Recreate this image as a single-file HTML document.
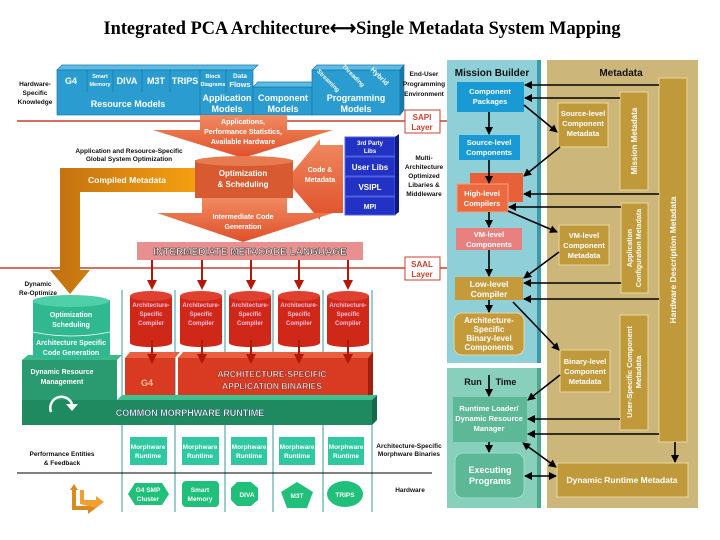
<!DOCTYPE html>
<html><head><meta charset="utf-8"><style>
body{margin:0;background:#fff}
svg{display:block}
text{font-family:"Liberation Sans",sans-serif;font-weight:bold}
</style></head><body>
<svg width="720" height="540" viewBox="0 0 720 540" xmlns="http://www.w3.org/2000/svg">
<defs>
<marker id="ah" markerWidth="8" markerHeight="8" refX="7" refY="4" orient="auto" markerUnits="userSpaceOnUse"><path d="M0,0 L8,4 L0,8z" fill="#000"/></marker>
<marker id="as" markerWidth="8" markerHeight="8" refX="1" refY="4" orient="auto" markerUnits="userSpaceOnUse"><path d="M8,0 L0,4 L8,8z" fill="#000"/></marker>
<marker id="rh" markerWidth="10" markerHeight="10" refX="8" refY="5" orient="auto" markerUnits="userSpaceOnUse"><path d="M0,0 L10,5 L0,10z" fill="#b01808"/></marker>
<linearGradient id="og" x1="0" x2="0" y1="0" y2="1"><stop offset="0" stop-color="#f08a60"/><stop offset="1" stop-color="#e0502a"/></linearGradient>
<linearGradient id="yg" x1="0" x2="1"><stop offset="0" stop-color="#c07010"/><stop offset="1" stop-color="#f5a010"/></linearGradient>
</defs>
<text x="362" y="34" text-anchor="middle" font-family="Liberation Serif" style="font-family:'Liberation Serif',serif" font-size="19" textLength="517" lengthAdjust="spacingAndGlyphs">Integrated PCA Architecture⟷Single Metadata System Mapping</text>

<!-- right panels -->
<rect x="447" y="60" width="90" height="303" fill="#8ecfd8"/>
<rect x="537" y="60" width="4" height="303" fill="#3d9aa8"/>
<rect x="447" y="368" width="90" height="140" fill="#88d0bc"/>
<rect x="537" y="368" width="4" height="140" fill="#4fa890"/>
<rect x="547" y="60" width="151" height="448" fill="#cdb67a"/>
<text x="492" y="76" text-anchor="middle" font-size="10" fill="#111">Mission Builder</text>
<text x="621" y="76" text-anchor="middle" font-size="10" fill="#111">Metadata</text>

<g font-size="7.5" fill="#fff" text-anchor="middle">
<rect x="457" y="82" width="67" height="30" fill="#1a9ad4"/><text x="490" y="94">Component</text><text x="490" y="104">Packages</text>
<rect x="459" y="135" width="61" height="25" fill="#1a9ad4"/><text x="489" y="145">Source-level</text><text x="489" y="155">Components</text>
<rect x="470" y="173" width="53" height="29" fill="#e8603a"/>
<rect x="457" y="184" width="51" height="28" fill="#ec6a40" stroke="#f4a080" stroke-width="1"/><text x="482" y="196">High-level</text><text x="482" y="206">Compilers</text>
<rect x="456" y="228" width="66" height="22" fill="#e88080"/><text x="489" y="237">VM-level</text><text x="489" y="247">Components</text>
<rect x="455" y="277" width="68" height="23" fill="#c49a3a"/><text x="489" y="287" font-size="8.5">Low-level</text><text x="489" y="297" font-size="8.5">Compiler</text>
<rect x="454" y="313" width="70" height="42" rx="8" fill="#c49a3a" stroke="#e6d6a0"/><text x="489" y="323" font-size="8">Architecture-</text><text x="489" y="332" font-size="8">Specific</text><text x="489" y="341" font-size="8">Binary-level</text><text x="489" y="350" font-size="8">Components</text>
<text x="473" y="385" fill="#111" font-size="9">Run</text><text x="506" y="385" fill="#111" font-size="9">Time</text>
<rect x="453" y="397" width="74" height="45" fill="#5cb896"/><text x="489" y="411">Runtime Loader/</text><text x="489" y="421">Dynamic Resource</text><text x="489" y="431">Manager</text>
<rect x="455" y="453" width="69" height="45" rx="8" fill="#5cb896" stroke="#a0dcc4"/><text x="490" y="473" font-size="9">Executing</text><text x="490" y="484" font-size="9">Programs</text>

<g fill="#c09a3a" stroke="#e8d8a0">
<rect x="558" y="103" width="50" height="44"/><rect x="620" y="92" width="28" height="98"/><rect x="659" y="78" width="28" height="364"/>
<rect x="621" y="203" width="27" height="90"/><rect x="559" y="225" width="50" height="40"/><rect x="620" y="315" width="28" height="115"/>
<rect x="560" y="350" width="50" height="42"/><rect x="557" y="463" width="131" height="34"/></g>
<text x="583" y="116">Source-level</text><text x="583" y="126">Component</text><text x="583" y="136">Metadata</text>
<text x="584" y="238">VM-level</text><text x="584" y="248">Component</text><text x="584" y="258">Metadata</text>
<text x="585" y="364">Binary-level</text><text x="585" y="374">Component</text><text x="585" y="384">Metadata</text>
<text x="622" y="483" font-size="8.5">Dynamic Runtime Metadata</text>
<text transform="translate(637,141) rotate(-90)" font-size="8">Mission Metadata</text>
<text transform="translate(676,260) rotate(-90)" font-size="8.5">Hardware Description Metadata</text>
<text transform="translate(632,248) rotate(-90)" font-size="7">Application</text><text transform="translate(641,248) rotate(-90)" font-size="7">Configuration Metadata</text>
<text transform="translate(632,372) rotate(-90)" font-size="7.5">User-Specific Component</text><text transform="translate(641,372) rotate(-90)" font-size="7.5">Metadata</text>
</g>

<g stroke="#000" stroke-width="1.6" fill="none" marker-end="url(#ah)">
<line x1="659" y1="85" x2="525" y2="85"/><line x1="620" y1="98" x2="525" y2="98"/>
<line x1="524" y1="105" x2="557" y2="132"/><line x1="489" y1="112" x2="489" y2="134"/>
<line x1="560" y1="147" x2="524" y2="176"/><line x1="489" y1="160" x2="489" y2="183"/>
<line x1="659" y1="194" x2="524" y2="194"/><line x1="621" y1="207" x2="509" y2="207"/>
<line x1="489" y1="212" x2="489" y2="227"/><line x1="508" y1="211" x2="557" y2="232"/>
<line x1="559" y1="252" x2="524" y2="278"/><line x1="489" y1="250" x2="489" y2="276"/>
<line x1="621" y1="283" x2="524" y2="283"/><line x1="659" y1="299" x2="524" y2="299"/>
<line x1="489" y1="300" x2="489" y2="312"/><line x1="513" y1="302" x2="559" y2="350"/>
<line x1="489" y1="375" x2="489" y2="396"/><line x1="560" y1="375" x2="528" y2="400"/>
<line x1="620" y1="419" x2="528" y2="419"/><line x1="659" y1="434" x2="528" y2="434"/>
<line x1="489" y1="442" x2="489" y2="452"/><line x1="675" y1="442" x2="675" y2="462"/>
<line x1="523" y1="443" x2="556" y2="467" marker-start="url(#as)"/><line x1="525" y1="476" x2="556" y2="476" marker-start="url(#as)"/>
</g>

<!-- SAPI / SAAL lines -->
<line x1="17" y1="121" x2="447" y2="121" stroke="#c84030" stroke-width="1.5"/>
<line x1="0" y1="268" x2="447" y2="268" stroke="#c84030" stroke-width="1.5"/>
<g font-size="8" fill="#c84030" text-anchor="middle">
<rect x="405" y="110" width="35" height="23" fill="#fff" stroke="#c84030"/><text x="422" y="120">SAPI</text><text x="422" y="130">Layer</text>
<rect x="405" y="257" width="35" height="23" fill="#fff" stroke="#c84030"/><text x="422" y="267">SAAL</text><text x="422" y="277">Layer</text>
</g>

<!-- top blue blocks -->
<g fill="#2a9cd0" stroke="#1a78a8" stroke-width="0.7">
<path d="M57,70 L62,65 L258,65 L253,70z" fill="#5cbce4"/>
<rect x="57" y="70" width="196" height="45"/>
<rect x="253" y="87" width="59" height="28"/><path d="M253,87 L258,82 L317,82 L312,87z" fill="#5cbce4"/>
<rect x="312" y="70" width="88" height="45"/><path d="M312,70 L317,65 L404,65 L400,70z" fill="#5cbce4"/>
<path d="M400,70 L404,65 L404,110 L400,115z" fill="#1a78a8"/>
</g>
<g stroke="#1a78a8" stroke-width="0.7"><line x1="87" y1="70" x2="87" y2="92"/><line x1="113" y1="70" x2="113" y2="92"/><line x1="142" y1="70" x2="142" y2="92"/><line x1="170" y1="70" x2="170" y2="92"/><line x1="200" y1="70" x2="200" y2="115"/><line x1="226" y1="70" x2="226" y2="92"/></g>
<g fill="#fff" text-anchor="middle">
<text x="71" y="84" font-size="9">G4</text><text x="100" y="78" font-size="5.5">Smart</text><text x="100" y="86" font-size="5.5">Memory</text>
<text x="127" y="84" font-size="9">DIVA</text><text x="156" y="84" font-size="9">M3T</text><text x="185" y="84" font-size="9">TRIPS</text>
<text x="213" y="78" font-size="5.5">Block</text><text x="213" y="86" font-size="5.5">Diagrams</text><text x="240" y="78" font-size="6.5">Data</text><text x="240" y="87" font-size="7.5">Flows</text>
<text x="128" y="107" font-size="9">Resource Models</text>
<text x="227" y="101" font-size="9">Application</text><text x="227" y="112" font-size="9">Models</text>
<text x="283" y="101" font-size="9">Component</text><text x="283" y="112" font-size="9">Models</text>
<text x="356" y="101" font-size="9">Programming</text><text x="356" y="112" font-size="9">Models</text>
<text transform="translate(327,82) rotate(45)" font-size="6">Streaming</text><text transform="translate(352,77) rotate(45)" font-size="6">Threading</text><text transform="translate(378,78) rotate(45)" font-size="7">Hybrid</text>
</g>
<g font-size="6.5" fill="#111" text-anchor="middle">
<text x="35" y="86">Hardware-</text><text x="35" y="95">Specific</text><text x="35" y="104">Knowledge</text>
<text x="424" y="76">End-User</text><text x="424" y="86">Programming</text><text x="424" y="96">Environment</text>
<text x="424" y="160">Multi-</text><text x="424" y="169">Architecture</text><text x="424" y="178">Optimized</text><text x="424" y="187">Libaries &amp;</text><text x="424" y="196">Middleware</text>
<text x="129" y="153">Application and Resource-Specific</text><text x="129" y="161">Global System Optimization</text>
<text x="38" y="286">Dynamic</text><text x="38" y="295">Re-Optimize</text>
<text x="62" y="456">Performance Entities</text><text x="62" y="465">&amp; Feedback</text>
<text x="409" y="448">Architecture-Specific</text><text x="409" y="456">Morphware Binaries</text>
<text x="410" y="492">Hardware</text>
</g>

<!-- compiled metadata arrow -->
<path d="M60,168 L197,168 L197,192 L80,192 L80,270 L90,270 L70,294 L50,270 L60,270z" fill="url(#yg)"/>
<text x="127" y="183" font-size="8.5" fill="#fff" text-anchor="middle">Compiled Metadata</text>

<!-- big orange arrows -->
<path d="M200,115 L287,115 L287,130 L333,130 L243,158 L153,130 L200,130z" fill="url(#og)"/>
<text x="243" y="124" font-size="7" fill="#fff" text-anchor="middle">Applications,</text><text x="243" y="134" font-size="7" fill="#fff" text-anchor="middle">Performance Statistics,</text><text x="243" y="144" font-size="7" fill="#fff" text-anchor="middle">Available Hardware</text>
<path d="M343,145 L343,213 L320,213 L320,220 L286,180 L320,139 L320,145z" fill="url(#og)"/>
<text x="320" y="172" font-size="7" fill="#fff" text-anchor="middle">Code &amp;</text><text x="320" y="182" font-size="7" fill="#fff" text-anchor="middle">Metadata</text>
<path d="M202,198 L287,198 L287,213 L333,213 L243,242 L157,213 L202,213z" fill="url(#og)"/>
<text x="243" y="219" font-size="7" fill="#fff" text-anchor="middle">Intermediate Code</text><text x="243" y="229" font-size="7" fill="#fff" text-anchor="middle">Generation</text>
<rect x="195" y="160" width="98" height="38" fill="#d85a30"/><ellipse cx="244" cy="161" rx="49" ry="5" fill="#e87a50"/>
<text x="243" y="176" font-size="8" fill="#fff" text-anchor="middle">Optimization</text><text x="243" y="187" font-size="8" fill="#fff" text-anchor="middle">&amp; Scheduling</text>

<!-- libs -->
<g fill="#2232c4" stroke="#5060e0"><rect x="345" y="137" width="50" height="19"/><rect x="345" y="157" width="50" height="19"/><rect x="345" y="177" width="50" height="19"/><rect x="345" y="197" width="50" height="18"/></g>
<path d="M395,137 L399,134 L399,212 L395,215z" fill="#101880"/>
<g fill="#fff" text-anchor="middle"><text x="370" y="145" font-size="6">3rd Party</text><text x="370" y="153" font-size="6">Libs</text><text x="370" y="170" font-size="8">User Libs</text><text x="370" y="190" font-size="8">VSIPL</text><text x="370" y="209" font-size="7">MPI</text></g>

<!-- intermediate bar -->
<rect x="137" y="242" width="226" height="18" fill="#e89090"/>
<text x="250" y="255" font-size="10" fill="#fff" stroke="#333" stroke-width="0.5" text-anchor="middle">INTERMEDIATE METACODE LANGUAGE</text>

<!-- vertical teal lines -->
<g stroke="#3a9aa0" stroke-width="1"><line x1="122" y1="290" x2="122" y2="512"/><line x1="175" y1="290" x2="175" y2="512"/><line x1="225" y1="290" x2="225" y2="512"/><line x1="273" y1="290" x2="273" y2="512"/><line x1="323" y1="290" x2="323" y2="512"/><line x1="372" y1="290" x2="372" y2="512"/></g>

<!-- red binaries -->
<g fill="#d83a22"><rect x="125" y="358" width="50" height="42"/><rect x="178" y="358" width="190" height="42"/></g>
<path d="M125,358 L130,352 L180,352 L175,358z M178,358 L183,352 L373,352 L368,358z" fill="#e86040"/>
<path d="M368,358 L373,352 L373,395 L368,400z" fill="#a02010"/>
<text x="147" y="386" font-size="9" fill="#f8c0a0" text-anchor="middle">G4</text>
<text x="272" y="377" font-size="8.5" fill="#fff" stroke="#400" stroke-width="0.3" text-anchor="middle">ARCHITECTURE-SPECIFIC</text><text x="272" y="389" font-size="8.5" fill="#fff" stroke="#400" stroke-width="0.3" text-anchor="middle">APPLICATION BINARIES</text>

<!-- red cylinders + arrows -->
<g id="cyl">
<rect x="130" y="296" width="42" height="47" fill="#d02818"/><ellipse cx="151" cy="296" rx="21" ry="5" fill="#e04030"/><ellipse cx="151" cy="343" rx="21" ry="4" fill="#d02818"/>
</g>
<use href="#cyl" x="50"/><use href="#cyl" x="99"/><use href="#cyl" x="148"/><use href="#cyl" x="197"/>
<g font-size="6" fill="#fbd" text-anchor="middle">
<text x="151" y="307">Architecture-</text><text x="151" y="316">Specific</text><text x="151" y="325">Compiler</text>
<text x="201" y="307">Architecture-</text><text x="201" y="316">Specific</text><text x="201" y="325">Compiler</text>
<text x="250" y="307">Architecture-</text><text x="250" y="316">Specific</text><text x="250" y="325">Compiler</text>
<text x="299" y="307">Architecture-</text><text x="299" y="316">Specific</text><text x="299" y="325">Compiler</text>
<text x="348" y="307">Architecture-</text><text x="348" y="316">Specific</text><text x="348" y="325">Compiler</text>
</g>
<g stroke="#b01808" stroke-width="2" marker-end="url(#rh)">
<line x1="152" y1="260" x2="152" y2="288"/><line x1="202" y1="260" x2="202" y2="288"/><line x1="251" y1="260" x2="251" y2="288"/><line x1="299" y1="260" x2="299" y2="288"/><line x1="348" y1="260" x2="348" y2="288"/>
<line x1="152" y1="340" x2="152" y2="362"/><line x1="202" y1="340" x2="202" y2="362"/><line x1="251" y1="340" x2="251" y2="362"/><line x1="299" y1="340" x2="299" y2="362"/><line x1="348" y1="340" x2="348" y2="362"/>
</g>

<!-- green stack -->
<rect x="22" y="360" width="95" height="40" fill="#2a9a70"/><path d="M22,360 L28,355 L122,355 L117,360z" fill="#40b888"/>
<rect x="22" y="400" width="350" height="25" fill="#1f8a60"/><path d="M117,400 L122,395 L377,395 L372,400z" fill="#40c090"/><path d="M372,400 L377,395 L377,420 L372,425z" fill="#146a48"/>
<rect x="33" y="300" width="77" height="55" fill="#30b890"/><ellipse cx="71" cy="301" rx="38" ry="6" fill="#50d0a8"/><ellipse cx="71" cy="355" rx="38" ry="5" fill="#30b890"/>
<path d="M33,332 Q71,340 110,332" stroke="#fff" fill="none" stroke-width="0.8"/>
<g fill="#fff" text-anchor="middle" font-size="7">
<text x="71" y="317">Optimization</text><text x="71" y="327">Scheduling</text><text x="71" y="345">Architecture Specific</text><text x="71" y="355">Code Generation</text>
<text x="62" y="374">Dynamic Resource</text><text x="62" y="384">Management</text>
<text x="190" y="416" font-size="9" stroke="#135" stroke-width="0.3">COMMON MORPHWARE RUNTIME</text>
</g>
<path d="M51,412 A10,10 0 1,1 72,404" stroke="#fff" stroke-width="2.5" fill="none"/><path d="M66,404 L78,404 L72,411z" fill="#fff"/>

<!-- morphware runtime boxes -->
<g fill="#30c8a0"><rect x="130" y="437" width="37" height="28"/><rect x="182" y="437" width="37" height="28"/><rect x="231" y="437" width="36" height="28"/><rect x="279" y="437" width="36" height="28"/><rect x="328" y="437" width="36" height="28"/></g>
<g fill="#fff" font-size="6.5" text-anchor="middle">
<text x="148" y="449">Morphware</text><text x="148" y="458">Runtime</text><text x="200" y="449">Morphware</text><text x="200" y="458">Runtime</text>
<text x="249" y="449">Morphware</text><text x="249" y="458">Runtime</text><text x="297" y="449">Morphware</text><text x="297" y="458">Runtime</text>
<text x="346" y="449">Morphware</text><text x="346" y="458">Runtime</text>
</g>
<line x1="17" y1="473" x2="432" y2="473" stroke="#000" stroke-width="1"/>

<!-- hardware -->
<g fill="#20c07a">
<path d="M135,483 L162,483 L169,494 L162,505 L135,505 L128,494z"/>
<rect x="182" y="481" width="37" height="26" rx="4"/>
<path d="M237,482 L251,482 L258,488 L258,500 L251,506 L237,506 L231,500 L231,488z"/>
<path d="M297,482 L313,492 L307,508 L287,508 L281,492z"/>
<ellipse cx="345" cy="494" rx="18" ry="13"/>
</g>
<g fill="#fff" font-size="6.5" text-anchor="middle">
<text x="148" y="492">G4 SMP</text><text x="148" y="501">Cluster</text><text x="200" y="492">Smart</text><text x="200" y="501">Memory</text>
<text x="247" y="497">DIVA</text><text x="297" y="498">M3T</text><text x="345" y="497">TRIPS</text>
</g>
<!-- feedback arrow -->
<path d="M70,490 L74,484 L78,490 L76,490 L76,506 L88,506 L88,502 L96,508 L88,514 L88,510 L72,510 L72,490z" fill="#d88a20"/>
<path d="M80,490 L84,490 L84,500 L96,500 L96,496 L104,502 L96,508 L80,504z" fill="#f0a030"/>
</svg>
</body></html>
